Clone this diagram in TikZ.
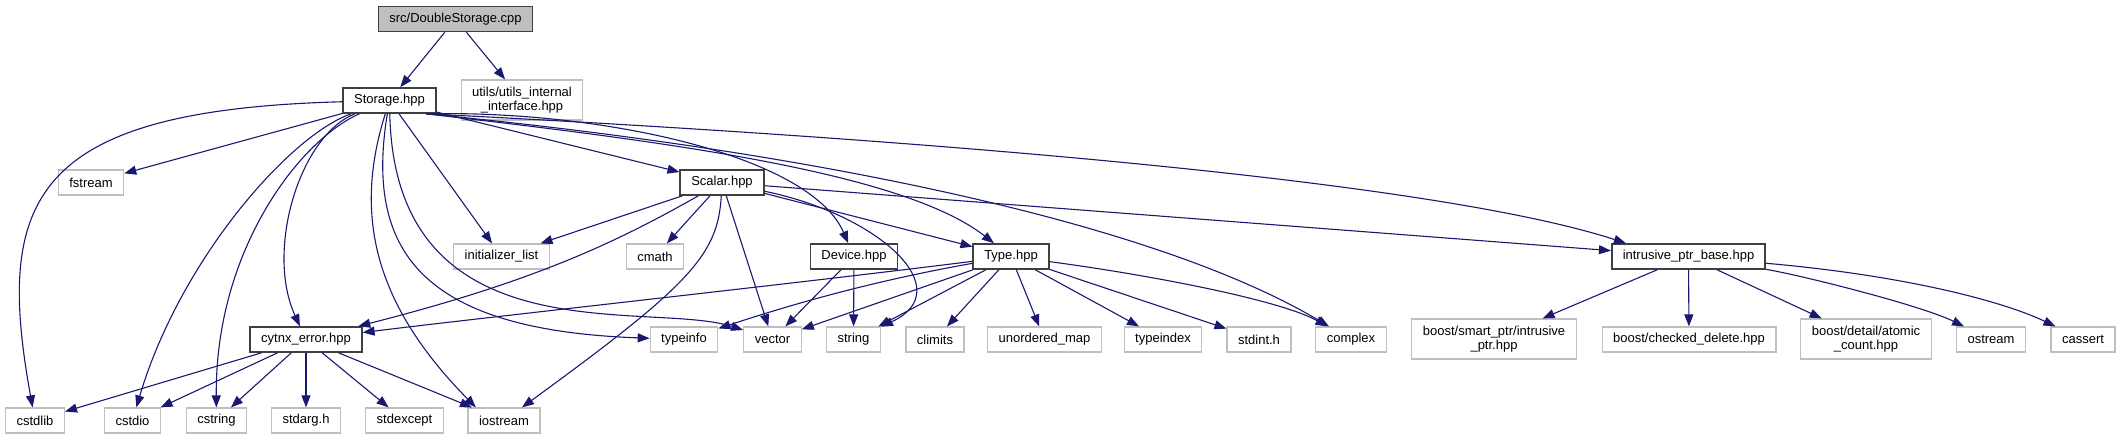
\documentclass[tikz,border=0pt]{standalone}
\usepackage{fontspec}
\setmainfont{Liberation Sans}
\usetikzlibrary{arrows.meta}
\definecolor{edgeblue}{HTML}{191970}
\definecolor{leafgray}{HTML}{BFBFBF}
\definecolor{hdrgray}{HTML}{404040}
\definecolor{rootgray}{HTML}{BFBFBF}
\tikzset{
  file/.style={draw=leafgray, line width=1.2pt, fill=white, minimum height=25pt,
    inner xsep=11pt, inner ysep=2pt, align=center, font=\fontsize{13}{14.5}\selectfont},
  twoline/.style={minimum height=40pt},
  hdr/.style={file, draw=hdrgray, line width=1.6pt},
  rootfile/.style={hdr, fill=rootgray},
  dep/.style={draw=edgeblue, line width=1.1pt, -{Triangle[length=12pt,width=9pt]}}
}
\begin{document}
\begin{tikzpicture}[x=1pt,y=-1pt]
\useasboundingbox (0,0) rectangle (2121,440);
\node[rootfile] (src) at (455.5,19) {src/DoubleStorage.cpp};
\node[hdr] (stor) at (389.5,100.5) {Storage.hpp};
\node[file,twoline] (utl) at (522,100) {utils/utils\_internal\\\_interface.hpp};
\node[file] (fstr) at (91,182.5) {fstream};
\node[hdr] (scal) at (722,182.5) {Scalar.hpp};
\node[file] (init) at (501.5,256.5) {initializer\_list};
\node[file] (cmath) at (655,256.5) {cmath};
\node[hdr] (dev) at (854,256.5) {Device.hpp};
\node[hdr] (type) at (1011,256.5) {Type.hpp};
\node[hdr] (iptr) at (1688.5,256.5) {intrusive\_ptr\_base.hpp};
\node[hdr] (err) at (306,339.5) {cytnx\_error.hpp};
\node[file] (tinfo) at (684,339.5) {typeinfo};
\node[file] (vec) at (772.5,339.5) {vector};
\node[file] (str) at (853.5,339.5) {string};
\node[file] (clim) at (935,339.5) {climits};
\node[file] (umap) at (1044.5,339.5) {unordered\_map};
\node[file] (tidx) at (1163,339.5) {typeindex};
\node[file] (sint) at (1259,339.5) {stdint.h};
\node[file] (cplx) at (1351,339.5) {complex};
\node[file,twoline] (bsp) at (1494,339) {boost/smart\_ptr/intrusive\\\_ptr.hpp};
\node[file] (bcd) at (1689,339.5) {boost/checked\_delete.hpp};
\node[file,twoline] (bac) at (1866,339) {boost/detail/atomic\\\_count.hpp};
\node[file] (ostr) at (1991,339.5) {ostream};
\node[file] (cass) at (2083,339.5) {cassert};
\node[file] (cstdlib) at (35,420.5) {cstdlib};
\node[file] (cstdio) at (132.5,420.5) {cstdio};
\node[file] (cstr) at (216.5,420.5) {cstring};
\node[file] (stdarg) at (306,420.5) {stdarg.h};
\node[file] (stdexc) at (404.5,420.5) {stdexcept};
\node[file] (ios) at (504,420.5) {iostream};
\draw[dep] (src) -- (stor);
\draw[dep] (src) -- (utl);
\draw[dep] (stor) -- (fstr);
\draw[dep] (stor) .. controls (30,110) and (-5,200) .. (cstdlib);
\draw[dep] (stor) .. controls (290,135) and (180,260) .. (cstdio);
\draw[dep] (stor) .. controls (300,140) and (215,250) .. (cstr);
\draw[dep] (stor) .. controls (300,135) and (265,250) .. (err);
\draw[dep] (stor) .. controls (355,210) and (370,300) .. (ios.155);
\draw[dep] (stor) .. controls (365,250) and (420,330) .. (tinfo);
\draw[dep] (stor) .. controls (395,360) and (650,300) .. (vec);
\draw[dep] (stor) -- (init);
\draw[dep] (stor) -- (scal);
\draw[dep] (stor.-20) .. controls (600,110) and (810,155) .. (dev);
\draw[dep] (stor.-20) .. controls (650,140) and (900,170) .. (type);
\draw[dep] (stor.-20) .. controls (800,150) and (1150,220) .. (cplx);
\draw[dep] (stor.-20) .. controls (750,130) and (1400,170) .. (iptr.168);
\draw[dep] (scal) -- (init);
\draw[dep] (scal) -- (cmath);
\draw[dep] (scal) .. controls (620,240) and (540,280) .. (err);
\draw[dep] (scal) .. controls (718,255) and (690,285) .. (ios);
\draw[dep] (scal) -- (vec);
\draw[dep] (scal) -- (type);
\draw[dep] (scal) .. controls (880,215) and (960,290) .. (str);
\draw[dep] (scal) -- (iptr);
\draw[dep] (dev) -- (vec);
\draw[dep] (dev) -- (str);
\draw[dep] (type) .. controls (800,283) and (480,318) .. (err);
\draw[dep] (type) .. controls (850,285) and (760,315) .. (tinfo);
\draw[dep] (type) -- (vec);
\draw[dep] (type) -- (str);
\draw[dep] (type) -- (clim);
\draw[dep] (type) -- (umap);
\draw[dep] (type) -- (tidx);
\draw[dep] (type) -- (sint);
\draw[dep] (type) .. controls (1150,275) and (1280,300) .. (cplx);
\draw[dep] (iptr) -- (bsp);
\draw[dep] (iptr) -- (bcd);
\draw[dep] (iptr) -- (bac);
\draw[dep] (iptr) .. controls (1800,275) and (1920,305) .. (ostr);
\draw[dep] (iptr) .. controls (1900,275) and (2000,300) .. (cass);
\draw[dep] (err) -- (cstdlib);
\draw[dep] (err) -- (cstdio);
\draw[dep] (err) -- (cstr);
\draw[dep] (err) -- (stdarg);
\draw[dep] (err) -- (stdexc);
\draw[dep] (err) -- (ios);
\end{tikzpicture}
\end{document}
